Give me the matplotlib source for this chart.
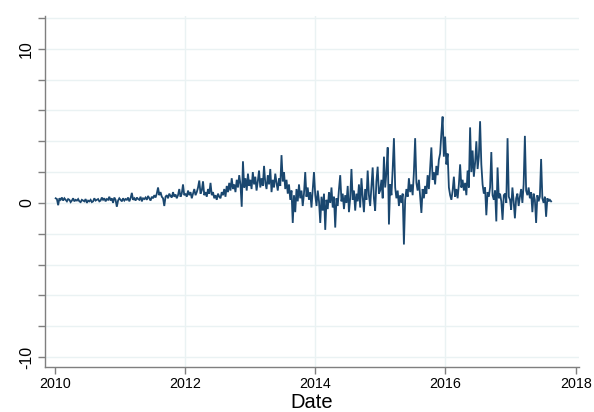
import numpy as np
import pandas as pd
import matplotlib
matplotlib.use("Agg")
import matplotlib.pyplot as plt

# Weekly values, one list per calendar year
v2010 = [0.3, 0.25, -0.15, 0.3, 0.2, 0.35, 0.15, 0.3, 0.2, 0.1, 0.25, 0.2, 0.05,
         0.15, 0.3, 0.1, 0.2, 0.15, 0.25, 0.1, 0.05, 0.2, 0.15, 0.1, 0.25, 0.0,
         0.15, 0.1, 0.2, 0.05, 0.1, 0.3, 0.15, 0.2, 0.25, 0.1, 0.15, 0.35, 0.2,
         0.3, 0.1, 0.25, 0.2, 0.4, 0.15, 0.3, 0.0, 0.35, 0.2, -0.25, 0.15, 0.3]
v2011 = [0.2, 0.1, 0.3, 0.15, 0.25, 0.2, 0.35, 0.1, 0.3, 0.65,
         0.2, 0.3, 0.15, 0.35, 0.25, 0.2, 0.4, 0.1, 0.3, 0.25,
         0.35, 0.2, 0.45, 0.3, 0.15, 0.4, 0.3, 0.5, 0.35, 0.6,
         1.0, 0.5, 0.7, 0.4, 0.3, -0.2, 0.4, 0.5, 0.3, 0.6,
         0.45, 0.35, 0.7, 0.4, 0.55, 0.3, 0.5, 0.9, 0.4, 0.6, 1.2, 0.5]
v2012 = [0.6, 0.4, 0.8, 0.5, 0.7, 0.3, 0.6, 0.9, 0.5, 0.7,
         1.0, 1.45, 0.6, 0.8, 1.4, 0.5, 0.7, 0.4, 0.9, 0.6,
         1.3, 0.5, 0.7, 0.3, 0.5, 0.2, 0.6, 0.4, 0.3, 0.7,
         0.5, 0.9, 0.4, 1.1, 0.7, 1.3, 0.8, 1.6, 0.9, 1.2,
         0.7, 1.5, 1.0, 1.8, 1.2, -0.25, 2.7, 1.0, 1.6, 0.8, 1.9, 1.1]
v2013 = [1.5, 0.9, 2.0, 1.2, 1.7, 0.8, 1.4, 2.1, 1.0, 1.6,
         1.1, 2.4, 1.3, 0.9, 1.8, 1.2, 2.2, 0.7, 1.5, 1.0,
         1.9, 1.3, 0.8, 1.6, 1.1, 3.1, 1.4, 2.0, 0.9, 1.5,
         0.6, 1.2, 0.2, 0.8, -1.3, 0.5, -0.6, 0.9, 0.1, 1.2,
         0.3, 0.8, -0.2, 0.6, 2.0, 0.4, 1.0, 0.2, 0.7, -0.3, 0.9, 2.0]
v2014 = [0.5, -0.2, 0.8, 0.1, -1.3, 0.4, -0.5, 0.6, -1.75, 0.2,
         -0.4, 0.7, 0.0, 1.0, -0.3, 0.4, -1.6, 0.3, -0.2, 0.9,
         1.8, 0.1, 0.6, -0.4, 0.5, 0.0, 1.1, -0.6, 0.3, 2.2,
         0.2, 0.8, -0.5, 0.6, 0.1, 1.2, -0.3, 1.6, 0.4, -0.6,
         0.9, 0.2, 2.1, 0.5, -0.2, 1.0, 2.3, 0.3, -0.5, 1.4, 2.35, 0.6]
v2015 = [0.8, 1.5, 0.3, 3.0, 1.0, 2.0, 3.6, -1.4, 1.2, 0.5,
         2.2, 4.2, 1.0, 0.3, 0.8, -0.2, 0.5, 0.0, 0.6, -2.7,
         0.2, 0.9, 0.4, 1.6, 0.7, 1.2, 0.5, 2.0, 4.2, 1.3,
         0.8, 1.5, 0.4, -0.65, 0.9, 0.3, 1.1, 0.6, 1.8, 0.9,
         2.2, 3.6, 1.5, 2.0, 1.2, 2.4, 1.8, 2.8, 3.2, 4.5, 5.6, 3.0]
v2016 = [4.3, 2.5, 3.2, 1.0, 0.5, 0.2, 0.8, 1.7, 0.4, 0.9,
         0.3, 1.2, 2.5, 1.0, 1.5, 0.8, 1.3, 0.5, 2.1, 1.0,
         4.9, 2.0, 3.4, 1.7, 2.6, 4.0, 2.2, 3.0, 5.3, 2.5,
         1.2, 0.6, 1.0, -0.8, 0.7, 0.4, 1.0, 3.3, 0.5, 0.2,
         0.8, -1.2, 2.3, 0.3, 0.6, 0.1, -1.1, 0.5, 0.6, 0.0, 4.2, 0.4]
v2017 = [0.2, -0.45, 1.0, 0.1, -1.0, 0.3, 0.6, -0.2, 0.4, 0.9,
         0.0, 1.2, 4.35, 0.8, 0.5, 1.0, 0.3, 0.7, -0.6, 0.6,
         0.2, -1.3, 0.5, 0.1, 0.4, 2.85, 0.3, 0.0, 0.4, -0.9,
         0.3, 0.1, 0.2, 0.1]

values = np.array(v2010 + v2011 + v2012 + v2013 + v2014 + v2015 + v2016 + v2017)
start_date = "2010-01-06"
dates = pd.date_range(start_date, periods=len(values), freq="W-WED")
xdec = dates.year + (dates.dayofyear - 1) / 365.25

x_ticks = [2010, 2012, 2014, 2016, 2018]
x_grid = [2012, 2014, 2016]
y_ticks = list(range(-10, 13, 2))
y_labels = {-10: "-10", 0: "0", 10: "10"}

plt.rcParams["font.family"] = ["Liberation Sans", "DejaVu Sans"]

fig = plt.figure(figsize=(5.94, 4.12), dpi=100)
ax = fig.add_axes([45 / 594, 1 - 367 / 412, (579 - 45) / 594, (367 - 16) / 412])

gridc = "#eaf2f3"
for yv in y_ticks:
    ax.axhline(yv, color=gridc, lw=1.0, zorder=0)
for xv in x_grid:
    ax.axvline(xv, color=gridc, lw=1.0, zorder=0)

ax.plot(xdec, values, color="#1a476f", lw=1.3, zorder=2, solid_joinstyle="miter")

ax.set_xlim(2009.85, 2018.05)
ax.set_ylim(-10.65, 12.13)
ax.set_xticks(x_ticks)
ax.set_xticklabels([str(t) for t in x_ticks], fontsize=10.3)
ax.set_yticks(y_ticks)
ax.set_yticklabels([y_labels.get(t, "") for t in y_ticks], fontsize=11.5,
                   rotation=90, va="center")

for s in ["top", "right"]:
    ax.spines[s].set_visible(False)
for s in ["left", "bottom"]:
    ax.spines[s].set_color("#7f7f7f")
    ax.spines[s].set_linewidth(1.0)
ax.tick_params(axis="both", color="#7f7f7f", length=5, width=1.0,
               labelcolor="#000000")
ax.tick_params(axis="y", pad=3)
ax.tick_params(axis="x", pad=2)

ax.set_xlabel("Date", fontsize=14.5, labelpad=1.5)

fig.savefig("out.png", dpi=100, facecolor="white")
